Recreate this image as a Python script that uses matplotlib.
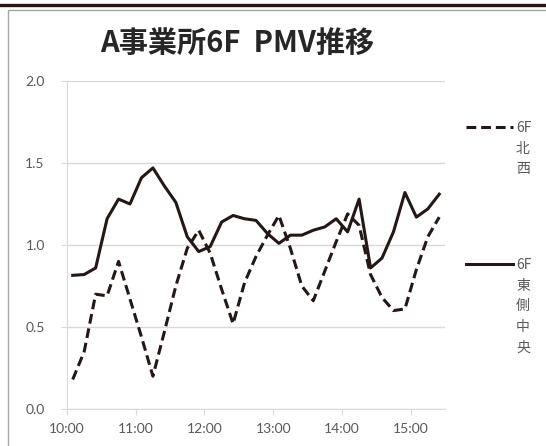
import matplotlib
matplotlib.use('Agg')
import matplotlib.pyplot as plt
from matplotlib.lines import Line2D
from matplotlib.patches import Rectangle

plt.rcParams['font.family'] = ['Noto Sans CJK JP', 'DejaVu Sans']

# measurement times (10 minute steps)
times = ['10:05', '10:15', '10:25', '10:35', '10:45', '10:55',
         '11:05', '11:15', '11:25', '11:35', '11:45', '11:55',
         '12:05', '12:15', '12:25', '12:35', '12:45', '12:55',
         '13:05', '13:15', '13:25', '13:35', '13:45', '13:55',
         '14:05', '14:15', '14:25', '14:35', '14:45', '14:55',
         '15:05', '15:15', '15:25']

# PMV, 6F north-west (dashed)
pmv_nw = [0.18, 0.35, 0.70, 0.69, 0.90, 0.67, 0.44, 0.20, 0.47, 0.75, 0.98,
          1.09, 0.95, 0.73, 0.52, 0.77, 0.93, 1.06, 1.18, 0.98, 0.75, 0.66,
          0.84, 1.02, 1.19, 1.12, 0.82, 0.68, 0.60, 0.61, 0.85, 1.05, 1.17]

# PMV, 6F east-centre (solid)
pmv_ec = [0.815, 0.82, 0.86, 1.16, 1.28, 1.25, 1.41, 1.47, 1.36, 1.26, 1.05,
          0.96, 0.99, 1.14, 1.18, 1.16, 1.15, 1.07, 1.01, 1.06, 1.06, 1.09,
          1.11, 1.16, 1.08, 1.28, 0.86, 0.92, 1.08, 1.32, 1.17, 1.22, 1.31]

tick_labels = ['10:00', '11:00', '12:00', '13:00', '14:00', '15:00']
yticks = [0.0, 0.5, 1.0, 1.5, 2.0]


def to_min(s):
    h, m = s.split(':')
    return (int(h) - 10) * 60 + int(m)


x = [to_min(t) for t in times]
xt = [to_min(t) for t in tick_labels]

line_col = '#231815'
grid_col = '#d9d9d9'
text_col = '#595959'

fig = plt.figure(figsize=(5.46, 4.46), dpi=100)
ax = fig.add_axes([67/546, 1 - 409/446, (445-67)/546, (409-81)/446])

# frame of the chart and the thick rule on top
fig.patches.append(Rectangle((8/546, -0.1), 1.2, 1 - 10/446 + 0.1,
                             transform=fig.transFigure, fill=False,
                             edgecolor='#a6a6a6', linewidth=1.0))
fig.add_artist(Line2D([0, 1], [1 - 4.5/446, 1 - 4.5/446],
                      transform=fig.transFigure, color=line_col, linewidth=2.4))

ax.plot(x, pmv_nw, color=line_col, linewidth=2.2, dashes=(3.2, 1.6))
ax.plot(x, pmv_ec, color=line_col, linewidth=2.2)

ax.set_xlim(0, 330)
ax.set_ylim(0, 2.0)
ax.set_xticks(xt)
ax.set_xticklabels(tick_labels, family=['Lato', 'DejaVu Sans'], fontsize=10, color=text_col)
ax.set_yticks(yticks)
ax.set_yticklabels(['%.1f' % v for v in yticks], family=['Lato', 'DejaVu Sans'],
                   fontsize=10, color=text_col)

ax.grid(axis='y', color=grid_col, linewidth=1.0)
ax.set_axisbelow(True)
for side in ['top', 'right']:
    ax.spines[side].set_visible(False)
ax.spines['left'].set_color(grid_col)
ax.spines['bottom'].set_color(grid_col)
ax.tick_params(axis='both', color=grid_col, length=4, direction='out')
ax.tick_params(axis='y', pad=12)
ax.tick_params(axis='x', pad=6)

fig.text(237/546, 1 - 43/446, 'A事業所6F  PMV推移', ha='center', va='center',
         fontsize=21, fontweight='bold', color='#262626')

# legend drawn by hand, labels wrap one character per line
fig.add_artist(Line2D([466/546, 513/546], [1 - 127/446, 1 - 127/446],
                      transform=fig.transFigure, color=line_col,
                      linewidth=2.2, dashes=(3.2, 1.6)))
fig.add_artist(Line2D([466/546, 513/546], [1 - 264/446, 1 - 264/446],
                      transform=fig.transFigure, color=line_col, linewidth=2.2))
fig.text(516/546, 1 - 121/446, '6F\n北\n西', ha='left', va='top',
         fontsize=10, color=text_col, linespacing=1.6)
fig.text(516/546, 1 - 258/446, '6F\n東\n側\n中\n央', ha='left', va='top',
         fontsize=10, color=text_col, linespacing=1.6)

fig.savefig('out.png', dpi=100)
